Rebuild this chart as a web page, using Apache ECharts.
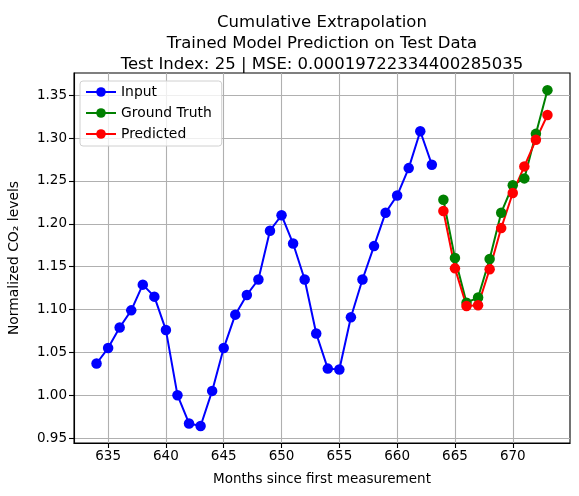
<!DOCTYPE html>
<head>
  <meta charset="utf-8">
  <title>Cumulative Extrapolation</title>
  <script src="https://cdn.jsdelivr.net/npm/echarts@6/dist/echarts.min.js"></script>
  <style>
    body { margin: 0; background: #fff; }
  </style>
</head>
<body>
  <div id="main" style="width: 579px;height:496px;"></div>
  <script>
    // months since first measurement
    var inputMonths = [634, 635, 636, 637, 638, 639, 640, 641, 642, 643, 644, 645, 646, 647, 648,
                       649, 650, 651, 652, 653, 654, 655, 656, 657, 658, 659, 660, 661, 662, 663];
    var inputValues = [1.037, 1.055, 1.079, 1.099, 1.129, 1.115, 1.076, 1.000, 0.967, 0.964, 1.005, 1.055, 1.094, 1.117, 1.135,
                       1.192, 1.210, 1.177, 1.135, 1.072, 1.031, 1.030, 1.091, 1.135, 1.174, 1.213, 1.233, 1.265, 1.308, 1.269];
    var testMonths = [664, 665, 666, 667, 668, 669, 670, 671, 672, 673];
    var truthValues = [1.228, 1.160, 1.108, 1.114, 1.159, 1.213, 1.245, 1.253, 1.305, 1.356];
    var predValues = [1.215, 1.148, 1.104, 1.105, 1.147, 1.195, 1.236, 1.267, 1.298, 1.327];
    var xTicks = [635, 640, 645, 650, 655, 660, 665, 670];
    var yTicks = [0.95, 1.00, 1.05, 1.10, 1.15, 1.20, 1.25, 1.30, 1.35];

    function pairs(xs, ys) {
      return xs.map(function (x, i) { return [x, ys[i]]; });
    }

    var font = 'DejaVu Sans';
    var myChart = echarts.init(document.getElementById('main'));

    function lineSeries(name, color, xs, ys) {
      return {
        name: name,
        type: 'line',
        data: pairs(xs, ys),
        symbol: 'circle',
        symbolSize: 10.5,
        showAllSymbol: true,
        lineStyle: { color: color, width: 2 },
        itemStyle: { color: color },
        emphasis: { disabled: true },
        animation: false
      };
    }

    var option = {
      animation: false,
      textStyle: { fontFamily: font },
      title: {
        text: 'Cumulative Extrapolation\nTrained Model Prediction on Test Data\nTest Index: 25 | MSE: 0.00019722334400285035',
        left: 317,
        textAlign: 'center',
        top: 7,
        textStyle: { fontFamily: font, fontSize: 16.5, fontWeight: 'normal', color: '#000', lineHeight: 21 }
      },
      legend: {
        data: ['Input', 'Ground Truth', 'Predicted'],
        orient: 'vertical',
        left: 80,
        top: 81,
        padding: [4, 10, 5, 5],
        itemGap: 7,
        itemWidth: 30,
        itemHeight: 12,
        backgroundColor: 'rgba(255,255,255,0.8)',
        borderColor: '#d0d0d0',
        borderWidth: 1,
        borderRadius: 3,
        textStyle: { fontFamily: font, fontSize: 13.9, color: '#000' }
      },
      grid: {
        left: 74,
        right: 9,
        top: 73,
        bottom: 53,
        outerBoundsMode: 'none',
        containLabel: false,
        show: true,
        borderColor: '#000',
        borderWidth: 1.1,
        backgroundColor: '#fff'
      },
      xAxis: {
        type: 'value',
        min: 632.05,
        max: 674.95,
        name: 'Months since first measurement',
        nameLocation: 'middle',
        nameGap: 29,
        nameTextStyle: { fontFamily: font, fontSize: 13.5, color: '#000' },
        axisLine: { show: true, onZero: false, lineStyle: { color: '#000', width: 1.1 } },
        axisTick: { show: true, length: 5, customValues: xTicks, lineStyle: { color: '#000', width: 1.1 } },
        axisLabel: { customValues: xTicks, margin: 6, fontFamily: font, fontSize: 13.5, color: '#000' },
        splitLine: { show: true, lineStyle: { color: '#b0b0b0', width: 1.1 } }
      },
      yAxis: {
        type: 'value',
        min: 0.9442,
        max: 1.376,
        name: 'Normalized CO₂ levels',
        nameLocation: 'middle',
        nameGap: 53,
        nameTextStyle: { fontFamily: font, fontSize: 13.9, color: '#000' },
        axisLine: { show: true, onZero: false, lineStyle: { color: '#000', width: 1.1 } },
        axisTick: { show: true, length: 5, customValues: yTicks, lineStyle: { color: '#000', width: 1.1 } },
        axisLabel: {
          customValues: yTicks, margin: 7, fontFamily: font, fontSize: 13.5, color: '#000',
          formatter: function (v) { return v.toFixed(2); }
        },
        splitLine: { show: true, lineStyle: { color: '#b0b0b0', width: 1.1 } }
      },
      series: [
        lineSeries('Input', '#0000ff', inputMonths, inputValues),
        lineSeries('Ground Truth', '#008000', testMonths, truthValues),
        lineSeries('Predicted', '#ff0000', testMonths, predValues)
      ]
    };

    myChart.setOption(option);
  </script>
</body>
